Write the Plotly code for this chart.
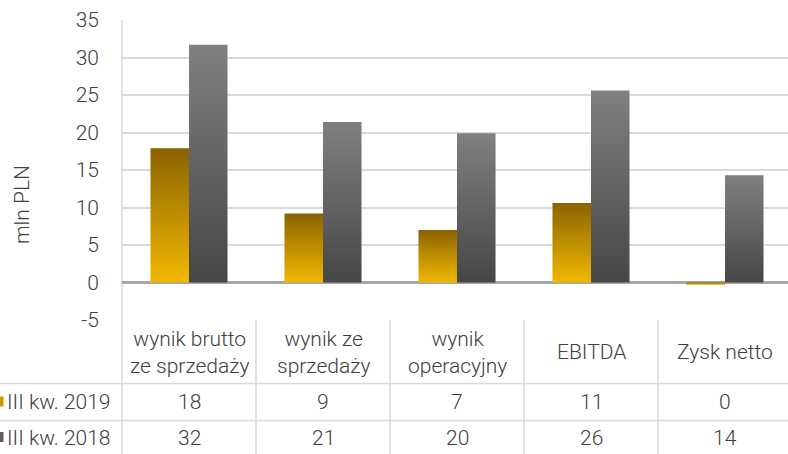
import math
import plotly.graph_objects as go

categories = ["wynik brutto<br>ze sprzedaży", "wynik ze<br>sprzedaży", "wynik<br>operacyjny", "EBITDA", "Zysk netto"]
series_names = ["III kw. 2019", "III kw. 2018"]
values_2019 = [17.9, 9.2, 7.0, 10.6, -0.3]
values_2018 = [31.7, 21.4, 19.9, 25.6, 14.3]
y_ticks = [-5, 0, 5, 10, 15, 20, 25, 30, 35]

W, H = 788, 454
ML, MT, MB = 122, 20, 134
PLOT_W = W - ML
PLOT_H = H - MT - MB
XMIN, XMAX = -0.5, -0.5 + PLOT_W / 134.0
BAR_W = 0.2875

TXT = "#404040"
GRID = "#d9d9d9"
FONT = dict(family="Roboto", size=21, color=TXT, weight=300)

grad_2019 = [[0, "#f2b800"], [1, "#8a6300"]]
grad_2018 = [[0, "#464646"], [1, "#808080"]]


def px_to_py(px):
    return (H - MB - px) / PLOT_H


def px_to_pxp(px):
    return (px - ML) / PLOT_W


def x_to_paper(x):
    return (x - XMIN) / (XMAX - XMIN)


def fmt(v):
    r = int(math.floor(abs(v) + 0.5))
    if r == 0:
        return "0"
    return str(r if v >= 0 else -r)


fig = go.Figure()

for s, (vals, grad) in enumerate([(values_2019, grad_2019), (values_2018, grad_2018)]):
    off = -BAR_W / 2 if s == 0 else BAR_W / 2
    for i, v in enumerate(vals):
        x0 = i + off - BAR_W / 2
        x1 = i + off + BAR_W / 2
        lo, hi = min(0, v), max(0, v)
        fig.add_trace(go.Scatter(
            x=[x0, x1, x1, x0, x0],
            y=[lo, lo, hi, hi, lo],
            mode="lines",
            fill="toself",
            line=dict(width=0, color="rgba(0,0,0,0)"),
            fillgradient=dict(type="vertical", colorscale=grad),
            name=series_names[s],
            showlegend=False,
            hoverinfo="skip",
        ))

shapes = []
# left axis / table left border
shapes.append(dict(type="line", xref="paper", yref="paper", x0=0, x1=0,
                   y0=1, y1=px_to_py(460), line=dict(color=GRID, width=1.5), layer="below"))
# vertical table separators
for b in [0.5, 1.5, 2.5, 3.5]:
    shapes.append(dict(type="line", xref="paper", yref="paper", x0=x_to_paper(b), x1=x_to_paper(b),
                       y0=0, y1=px_to_py(460), line=dict(color=GRID, width=1.5)))
# horizontal table lines
for ypx in [383.5, 420.5]:
    shapes.append(dict(type="line", xref="paper", yref="paper", x0=px_to_pxp(-2), x1=1,
                       y0=px_to_py(ypx), y1=px_to_py(ypx), line=dict(color=GRID, width=1.5)))
# legend keys
for ycen, col in [(401.5, "#c99a00"), (437, "#5f5f5f")]:
    shapes.append(dict(type="rect", xref="paper", yref="paper",
                       x0=px_to_pxp(-6), x1=px_to_pxp(3.5),
                       y0=px_to_py(ycen + 5), y1=px_to_py(ycen - 5),
                       fillcolor=col, line=dict(width=0)))

annotations = []
for i, c in enumerate(categories):
    annotations.append(dict(x=i, xref="x", y=px_to_py(352), yref="paper", text=c,
                            showarrow=False, font=FONT, xanchor="center", yanchor="middle"))
    annotations.append(dict(x=i, xref="x", y=px_to_py(402), yref="paper", text=fmt(values_2019[i]),
                            showarrow=False, font=FONT, xanchor="center", yanchor="middle"))
    annotations.append(dict(x=i, xref="x", y=px_to_py(437.5), yref="paper", text=fmt(values_2018[i]),
                            showarrow=False, font=FONT, xanchor="center", yanchor="middle"))
for name, ycen in zip(series_names, [402, 437.5]):
    annotations.append(dict(x=px_to_pxp(113), xref="paper", y=px_to_py(ycen), yref="paper", text=name,
                            showarrow=False, font=FONT, xanchor="right", yanchor="middle"))
annotations.append(dict(x=px_to_pxp(22), xref="paper", y=px_to_py(205), yref="paper", text="mln PLN",
                        showarrow=False, font=FONT, textangle=-90, xanchor="center", yanchor="middle"))

fig.update_layout(
    width=W, height=H,
    margin=dict(l=ML, r=0, t=MT, b=MB),
    paper_bgcolor="white", plot_bgcolor="white",
    font=FONT,
    showlegend=False,
    xaxis=dict(range=[XMIN, XMAX], showticklabels=False, showgrid=False, zeroline=False,
               showline=False, fixedrange=True),
    yaxis=dict(range=[-5, 35], tickvals=y_ticks, ticktext=[str(t) for t in y_ticks],
               showgrid=True, gridcolor=GRID, gridwidth=1.5,
               zeroline=True, zerolinecolor="#a6a6a6", zerolinewidth=2.5, showline=False,
               ticks="", ticklabelstandoff=22, tickfont=FONT, fixedrange=True),
    shapes=shapes,
    annotations=annotations,
)

fig.write_html("out.html", config={"displayModeBar": False},
               post_script="document.body.style.margin='0';document.body.style.overflow='hidden';")
